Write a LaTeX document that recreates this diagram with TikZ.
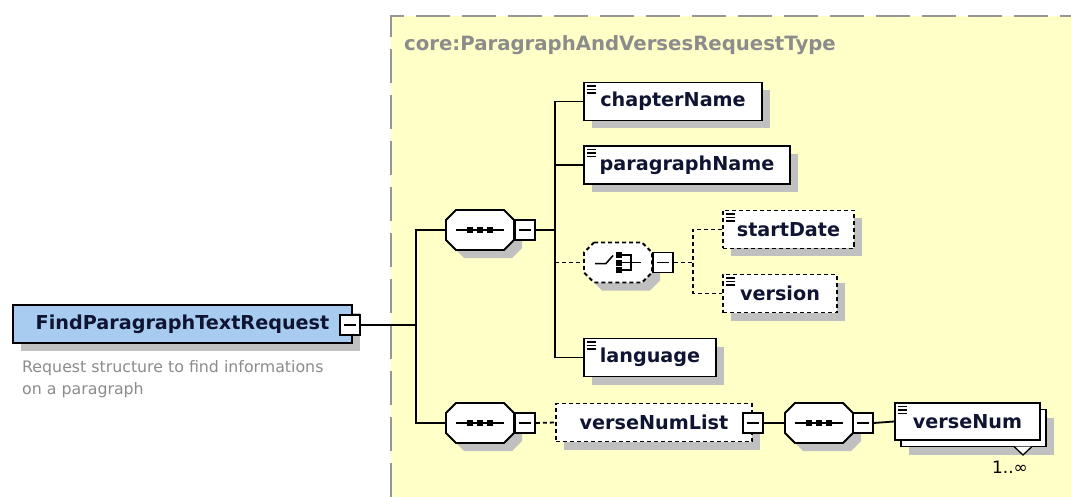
\documentclass[tikz,border=0pt]{standalone}
\usepackage{fontspec}
\setmainfont{DejaVu Sans}

\definecolor{typefill}{RGB}{255,255,200}
\definecolor{typeline}{RGB}{150,150,150}
\definecolor{titlegrey}{RGB}{140,140,140}
\definecolor{rootfill}{RGB}{168,204,240}
\definecolor{shadowgrey}{RGB}{192,192,192}
\definecolor{nametext}{RGB}{15,20,50}
\definecolor{descgrey}{RGB}{140,140,140}

\tikzset{
	shadowed/.style={preaction={draw=none, fill=shadowgrey, transform canvas={shift={(8pt,-8pt)}}}},
	namebox/.style={draw, line width=1.9pt, fill=white, inner sep=0pt, minimum height=38pt,
		font=\bfseries\fontsize{19.2}{21}\selectfont, text=nametext},
	elembox/.style={namebox, shadowed},
	optbox/.style={elembox, dash pattern=on 4pt off 3pt},
	expbox/.style={draw, line width=1.6pt, fill=white, minimum size=20pt, inner sep=0pt,
		path picture={\draw [line width=1.5pt] ([xshift=4pt]path picture bounding box.west) -- ([xshift=-4pt]path picture bounding box.east);}},
	link/.style={line width=1.8pt},
	optlink/.style={link, dash pattern=on 4pt off 3pt}
}

\newcommand{\octpath}{(-24,-20) -- (24,-20) -- (34,-10) -- (34,10) -- (24,20) -- (-24,20) -- (-34,10) -- (-34,-10) -- cycle}

\newcommand{\elemicon}[1]{%
	\foreach \k in {4.5,8,11.5}
		{\draw [line width=1.3pt] ([shift={(4pt,-\k pt)}]#1.north west) -- ++(9,0);}}

\newcommand{\seqgroup}[3]{%
	\begin{scope}[shift={(#2,#3)}]
		\fill [shadowgrey, shift={(8,8)}] \octpath;
		\draw [line width=1.9pt, fill=white] \octpath;
		\draw [line width=1.5pt] (-24,0) -- (24,0);
		\foreach \k in {-10,0,10}
			{\fill (\k-3,-3) rectangle (\k+3,3);}
		\node [inner sep=0pt, minimum width=68pt, minimum height=40pt] (#1) at (0,0) {};
	\end{scope}}

\newcommand{\choicegroup}[3]{%
	\begin{scope}[shift={(#2,#3)}]
		\fill [shadowgrey, shift={(8,8)}] \octpath;
		\draw [line width=1.9pt, fill=white, dash pattern=on 4pt off 3pt] \octpath;
		\draw [line width=1.5pt] (-23,1) -- (-12,1) -- (-5,-7);
		\foreach \k in {-7.5,0,7.5}
			{\fill (-2,\k-3) rectangle (4,\k+3);}
		\draw [line width=1.5pt] (4,-7.5) -- (13,-7.5) -- (13,7.5) -- (4,7.5) (4,0) -- (23,0);
		\node [inner sep=0pt, minimum width=68pt, minimum height=40pt] (#1) at (0,0) {};
	\end{scope}}

\begin{document}
\begin{tikzpicture}[x=1pt, y=-1pt]
	\useasboundingbox [fill=white] (0,0) rectangle (1071,497);

	% complex type area
	\fill [typefill] (391,16) rectangle (1071,497);
	\draw [typeline, line width=2pt, dash pattern=on 34pt off 12pt] (391,497) -- (391,16) -- (1071,16);
	\node [anchor=base west, inner sep=0pt, text=titlegrey, font=\bfseries\fontsize{19.7}{21}\selectfont] (title) at (404,51) {core:ParagraphAndVersesRequestType};

	% root element
	\node [elembox, fill=rootfill, minimum width=339pt] (root) at (182.5,324) {FindParagraphTextRequest};
	\node [expbox] (rootx) at (350,325) {};
	\node [anchor=north west, align=left, inner sep=0pt, text=descgrey, font=\fontsize{15.8}{22}\selectfont] (rootdoc) at (22,360) {Request structure to find informations\\on a paragraph};
	\coordinate (fork) at (416,325);
	\draw [link] (rootx.east) -- (fork);

	\seqgroup{seqA}{480}{230}
	\node [expbox] (seqAx) at (525,230) {};
	\seqgroup{seqB}{480}{423}
	\node [expbox] (seqBx) at (525,423) {};
	\draw [link] (seqA.west) -| (fork) |- (seqB.west);

	% first sequence
	\coordinate (forkA) at (555,230);
	\draw [link] (seqAx.east) -- (forkA);
	\node [elembox, minimum width=178pt] (chapter) at (673,101.5) {chapterName};
	\node [elembox, minimum width=206pt] (paragraph) at (687,165) {paragraphName};
	\node [elembox, minimum width=132pt] (language) at (650,357.5) {language};
	\draw [link] (chapter.west) -| (forkA) |- (language.west);
	\draw [link] (paragraph.west) -- (paragraph.west -| forkA);

	\choicegroup{choice}{618}{262.5}
	\node [expbox] (choicex) at (663,262.5) {};
	\draw [optlink] (forkA |- choice.west) -- (choice.west);
	\coordinate (forkC) at (693,262.5);
	\draw [optlink] (choicex.east) -- (forkC);
	\node [optbox, minimum width=131pt] (start) at (788.5,229.5) {startDate};
	\node [optbox, minimum width=114pt] (version) at (780,293.5) {version};
	\draw [optlink] (start.west) -| (forkC) |- (version.west);

	% second sequence
	\node [optbox, minimum width=196pt] (verselist) at (654,422.5) {verseNumList};
	\draw [optlink] (seqBx.east) -- (verselist.west);
	\node [expbox] (verselistx) at (753,423) {};
	\seqgroup{seqC}{819}{423}
	\node [expbox] (seqCx) at (863,423) {};
	\draw [link] (verselistx.east) -- (seqC.west);

	\node [elembox, minimum width=145pt, minimum height=37pt] (verseback) at (973.5,428) {};
	\draw [line width=1.3pt, fill=white] (1014,446.5) -- (1023,455) -- (1032,446.5);
	\node [namebox, minimum width=145pt, minimum height=37pt] (verse) at (967.5,421.5) {verseNum};
	\draw [link] (seqCx.east) -- (verse.west);
	\node [font=\fontsize{17}{19}\selectfont, inner sep=0pt] (verseocc) at (1010,467) {1..∞};

	\foreach \n in {chapter, paragraph, language, start, version, verse}
		{\elemicon{\n}}
\end{tikzpicture}
\end{document}
